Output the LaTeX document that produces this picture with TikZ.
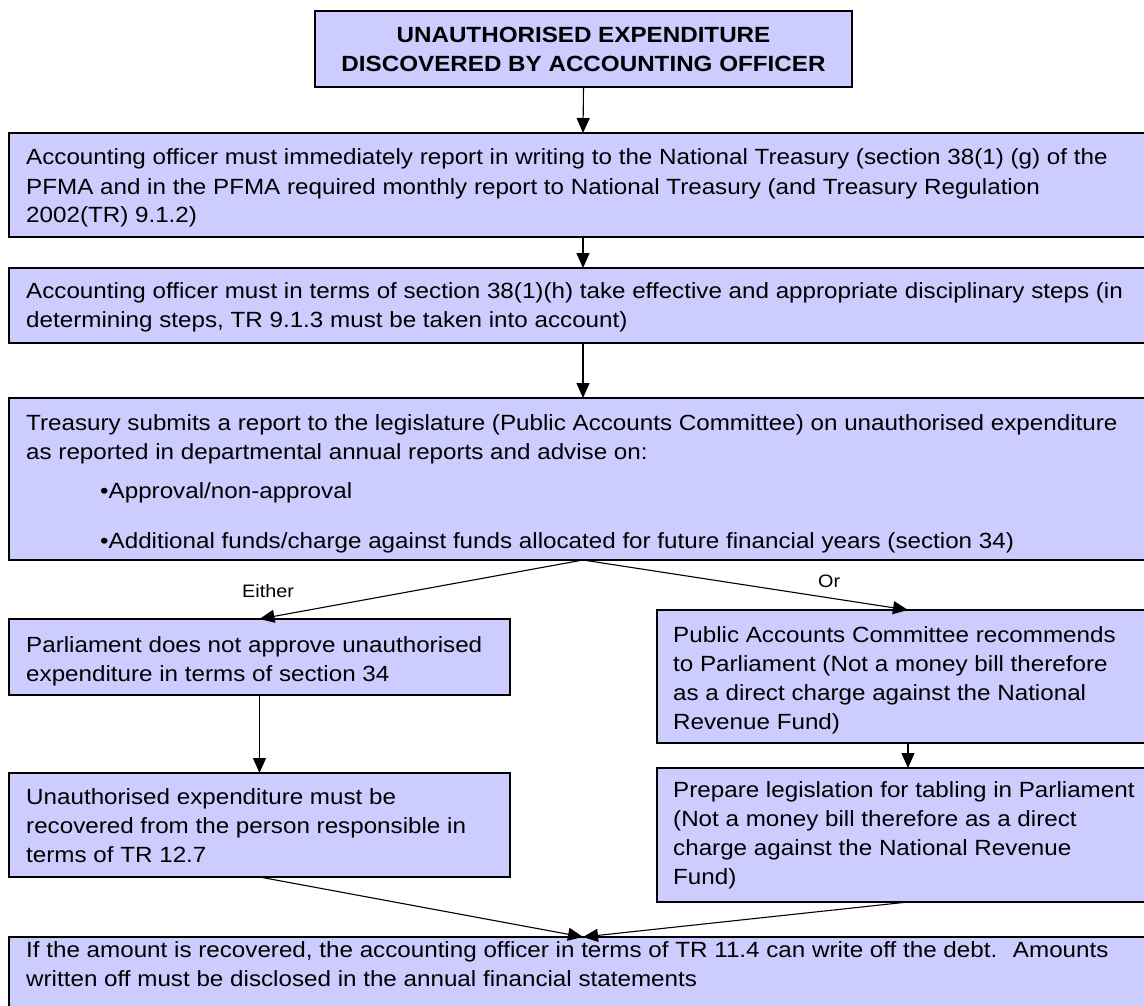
\documentclass[tikz,border=0pt]{standalone}
\usepackage{fontspec}
\setmainfont[FakeStretch=1.1]{Liberation Sans}
\usetikzlibrary{arrows.meta}
\definecolor{boxfill}{HTML}{CCCCFF}
\begin{document}
\begin{tikzpicture}[x=1pt,y=-1pt,
  box/.style={draw=black, line width=1.2pt, fill=boxfill, anchor=north west,
    inner sep=0pt, outer sep=0pt},
  txt/.style={anchor=base west, inner sep=0pt, font=\fontsize{22}{29}\selectfont},
  lbl/.style={anchor=base west, inner sep=0pt, font=\fontsize{18}{22}\selectfont},
  arr/.style={-{Triangle[length=15pt,width=13pt]}, line width=1.1pt}]
\useasboundingbox (0,0) rectangle (1144,1006);
\clip (0,0) rectangle (1144,1006);
% boxes
\node[box, minimum width=537pt, minimum height=76pt] (b1) at (315,11) {};
\node[box, minimum width=1148pt, minimum height=104pt] (b2) at (9,133) {};
\node[box, minimum width=1148pt, minimum height=75pt] (b3) at (9,268) {};
\node[box, minimum width=1148pt, minimum height=162pt] (b4) at (9,398) {};
\node[box, minimum width=501pt, minimum height=76pt] (l1) at (9,619) {};
\node[box, minimum width=501pt, minimum height=104pt] (l2) at (9,773) {};
\node[box, minimum width=502pt, minimum height=133pt] (r1) at (657,610) {};
\node[box, minimum width=502pt, minimum height=134pt] (r2) at (657,768) {};
\node[box, minimum width=1148pt, minimum height=90pt] (b5) at (9,937) {};
% texts
\node[anchor=base, inner sep=0pt, font=\fontsize{22}{29}\bfseries\selectfont] (t1) at (583.5,43)
  {\parbox[t]{536pt}{\centering UNAUTHORISED EXPENDITURE\\DISCOVERED BY ACCOUNTING OFFICER}};
\node[txt] (t2) at (26,165) {\parbox[t]{1200pt}{Accounting officer must immediately report in writing to the National Treasury (section 38(1) (g) of the\\
PFMA and in the PFMA required monthly report to National Treasury (and Treasury Regulation\\
2002(TR) 9.1.2)}};
\node[txt] (t3) at (26,298) {\parbox[t]{1200pt}{Accounting officer must in terms of section 38(1)(h) take effective and appropriate disciplinary steps (in\\
determining steps, TR 9.1.3 must be taken into account)}};
\node[txt] (t4) at (26,430) {\parbox[t]{1200pt}{Treasury submits a report to the legislature (Public Accounts Committee) on unauthorised expenditure\\
as reported in departmental annual reports and advise on:\\[10pt]
\hspace*{74pt}•Approval/non-approval\\[21pt]
\hspace*{74pt}•Additional funds/charge against funds allocated for future financial years (section 34)}};
\node[txt] (t5) at (26,652) {\parbox[t]{500pt}{Parliament does not approve unauthorised\\expenditure in terms of section 34}};
\node[txt] (t6) at (26,804) {\parbox[t]{500pt}{Unauthorised expenditure must be\\recovered from the person responsible in\\terms of TR 12.7}};
\node[txt] (t7) at (673,642) {\parbox[t]{500pt}{Public Accounts Committee recommends\\to Parliament (Not a money bill therefore\\as a direct charge against the National\\Revenue Fund)}};
\node[txt] (t8) at (673,797) {\parbox[t]{500pt}{Prepare legislation for tabling in Parliament\\(Not a money bill therefore as a direct\\charge against the National Revenue\\Fund)}};
\node[txt] (t9) at (26,957) {\parbox[t]{1200pt}{If the amount is recovered, the accounting officer in terms of TR 11.4 can write off the debt.~ Amounts\\written off must be disclosed in the annual financial statements}};
% labels
\node[lbl] (either) at (242,597) {Either};
\node[lbl] (or) at (818,587) {Or};
% connectors
\draw[arr] (b1.south) -- (b2.north);
\draw[arr] (b2.south) -- (b3.north);
\draw[arr] (b3.south) -- (b4.north);
\draw[arr] (b4.south) -- (l1.north);
\draw[arr] (b4.south) -- (r1.north);
\draw[arr] (l1.south) -- (l2.north);
\draw[arr] (r1.south) -- (r2.north);
\draw[arr] (l2.south) -- (b5.north);
\draw[arr] (r2.south) -- (b5.north);
\end{tikzpicture}
\end{document}
